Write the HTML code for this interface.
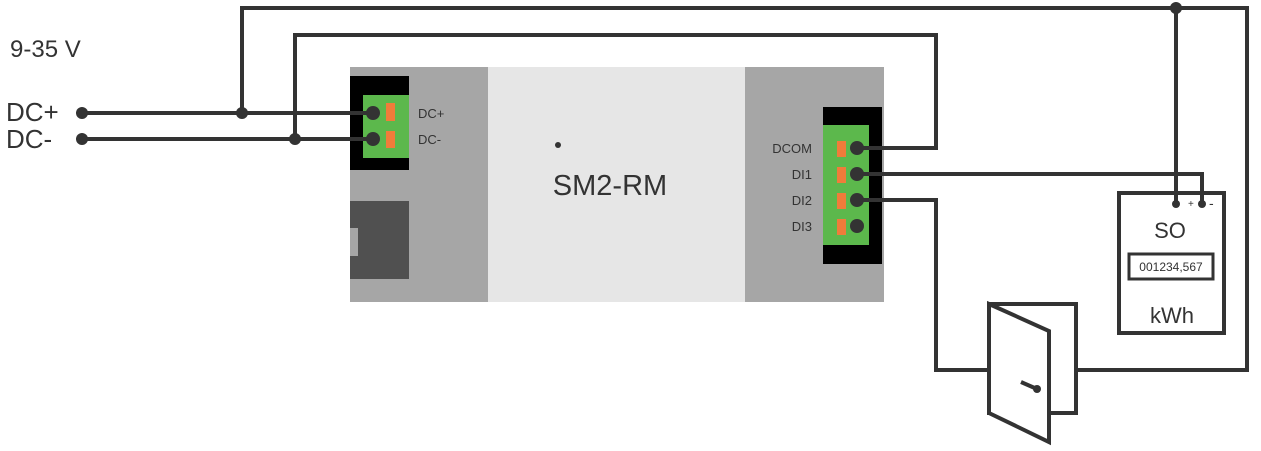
<!DOCTYPE html>
<html><head><meta charset="utf-8"><style>
html,body{margin:0;padding:0;background:#fff;}
svg{display:block;}
text{font-family:"Liberation Sans",sans-serif;fill:#333;}
</style></head><body>
<svg width="1261" height="451" viewBox="0 0 1261 451">
<rect x="350" y="67" width="139" height="235" fill="#a6a6a6"/>
<rect x="488" y="67" width="258" height="235" fill="#e6e6e6"/>
<rect x="745" y="67" width="139" height="235" fill="#a6a6a6"/>
<rect x="350" y="76" width="59" height="94" fill="#000"/>
<rect x="363" y="95" width="46" height="63" fill="#5cb84c"/>
<rect x="386" y="103" width="9" height="18" fill="#f07c3a"/>
<rect x="386" y="131" width="9" height="17" fill="#f07c3a"/>
<rect x="350" y="201" width="59" height="78" fill="#505050"/>
<rect x="350" y="228" width="8" height="28" fill="#a6a6a6"/>
<rect x="823" y="107" width="59" height="157" fill="#000"/>
<rect x="823" y="125" width="46" height="120" fill="#5cb84c"/>
<rect x="837" y="141" width="9" height="16" fill="#f07c3a"/>
<rect x="837" y="167" width="9" height="16" fill="#f07c3a"/>
<rect x="837" y="193" width="9" height="16" fill="#f07c3a"/>
<rect x="837" y="219" width="9" height="16" fill="#f07c3a"/>
<text x="418" y="118" font-size="13">DC+</text>
<text x="418" y="144" font-size="13">DC-</text>
<text x="812" y="153" font-size="13" text-anchor="end">DCOM</text>
<text x="812" y="179" font-size="13" text-anchor="end">DI1</text>
<text x="812" y="205" font-size="13" text-anchor="end">DI2</text>
<text x="812" y="231" font-size="13" text-anchor="end">DI3</text>
<circle cx="558" cy="145" r="3" fill="#333"/>
<text x="610" y="195" font-size="29" text-anchor="middle">SM2-RM</text>
<text x="10" y="57" font-size="24">9-35 V</text>
<text x="6" y="121" font-size="26">DC+</text>
<text x="6" y="148" font-size="26">DC-</text>
<g fill="none" stroke="#333" stroke-width="4">
<path d="M82 113H373M82 139H373"/>
<path d="M242 113V8H1247V370H1077"/>
<path d="M295 139V35H936V148H857"/>
<path d="M857 174H1202V204"/>
<path d="M1176 8V204"/>
<path d="M857 200H936V370H987"/>
<rect x="1119" y="193" width="105" height="140"/>
<rect x="989" y="304" width="87" height="109"/>
<path d="M989 304L1049 331V442L989 413Z" fill="#fff"/>
<path d="M1021 382L1037 389"/>
</g>
<rect x="1129" y="254" width="84" height="25" fill="none" stroke="#333" stroke-width="3"/>
<text x="1171" y="271" font-size="12" text-anchor="middle">001234,567</text>
<text x="1170" y="238" font-size="22" text-anchor="middle">SO</text>
<text x="1172" y="323" font-size="22" text-anchor="middle">kWh</text>
<text x="1188" y="207" font-size="10">+</text>
<text x="1209" y="208" font-size="14">-</text>
<g fill="#333">
<circle cx="82" cy="113" r="6"/><circle cx="82" cy="139" r="6"/>
<circle cx="242" cy="113" r="6"/><circle cx="295" cy="139" r="6"/>
<circle cx="373" cy="113" r="7"/><circle cx="373" cy="139" r="7"/>
<circle cx="857" cy="148" r="7"/><circle cx="857" cy="174" r="7"/>
<circle cx="857" cy="200" r="7"/><circle cx="857" cy="226" r="7"/>
<circle cx="1176" cy="8" r="6"/>
<circle cx="1176" cy="204" r="4"/><circle cx="1202" cy="204" r="4"/>
<circle cx="1037" cy="389" r="4"/>
</g>
</svg>
</body></html>
